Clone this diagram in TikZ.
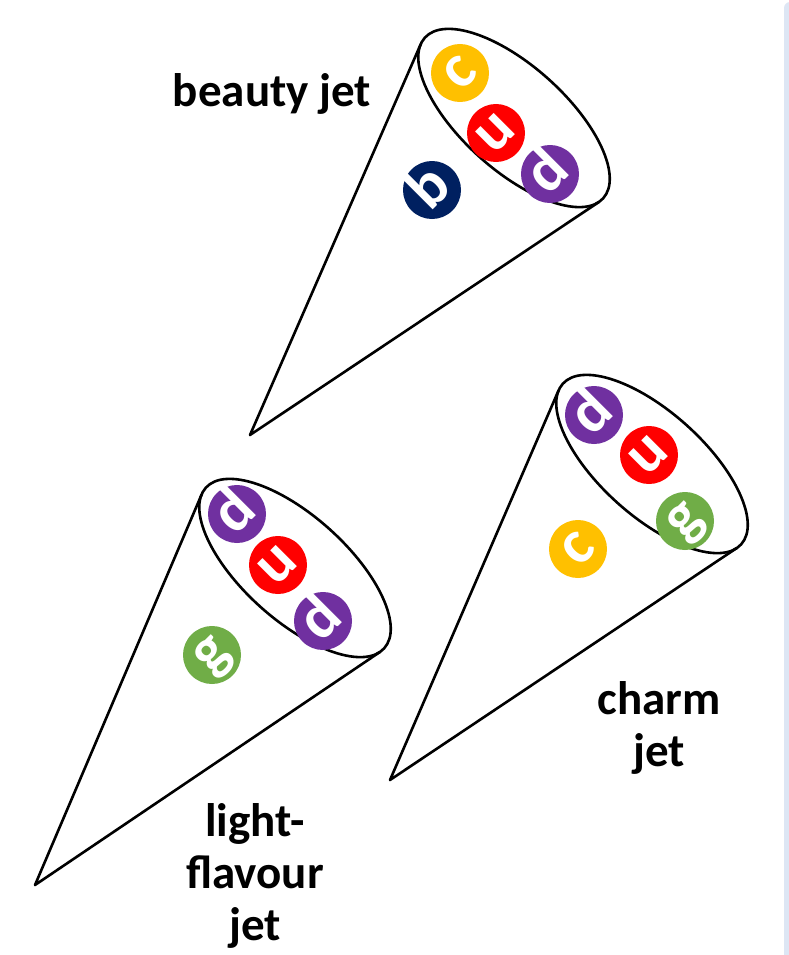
\documentclass[tikz,border=0pt]{standalone}
\usepackage{fontspec}
\setmainfont{Carlito}
\usepackage{tikz}

\definecolor{quarkc}{HTML}{FFC000}
\definecolor{quarku}{HTML}{FF0000}
\definecolor{quarkd}{HTML}{7030A0}
\definecolor{quarkb}{HTML}{002060}
\definecolor{quarkg}{HTML}{70AD47}
\definecolor{edgeblue}{HTML}{DDE6F4}

\begin{document}
\begin{tikzpicture}[
    x=1pt, y=1pt,
    cone/.style={draw=black, line width=2.6pt, line join=round},
    quark/.style={
        circle,
        fill=#1,
        minimum size=58pt,
        inner sep=0pt,
        text=white,
        font=\bfseries\fontsize{62}{62}\selectfont,
        text height=29pt,
        text depth=0pt,
        rotate=45
    },
    jetlabel/.style={
        font=\bfseries\fontsize{47}{52}\selectfont,
        align=center,
        inner sep=0pt
    }
]
    \useasboundingbox (0,0) rectangle (789,-955);
    \fill[white] (0,0) rectangle (789,-955);
    \fill[edgeblue, rounded corners=6pt] (784,-2) rectangle (800,-960);

    % beauty jet
    \coordinate (bapex) at (250,-435);
    \coordinate (bmouth) at (514,-118);
    \coordinate (bleft) at (420.8,-44.0);
    \coordinate (bright) at (598.9,-202.0);
    \draw[cone] (bleft) -- (bapex) -- (bright);
    \draw[cone] (bmouth) circle [x radius=120, y radius=52, rotate=-42];

    % charm jet
    \coordinate (capex) at (390,-780);
    \coordinate (cmouth) at (652,-464);
    \coordinate (cleft) at (558.7,-390.1);
    \coordinate (cright) at (736.8,-548.0);
    \draw[cone] (cleft) -- (capex) -- (cright);
    \draw[cone] (cmouth) circle [x radius=120, y radius=52, rotate=-42];

    % light-flavour jet
    \coordinate (lapex) at (35,-885);
    \coordinate (lmouth) at (295,-568);
    \coordinate (lleft) at (201.7,-494.3);
    \coordinate (lright) at (379.9,-652.0);
    \draw[cone] (lleft) -- (lapex) -- (lright);
    \draw[cone] (lmouth) circle [x radius=120, y radius=52, rotate=-42];

    % quarks
    \node[quark=quarkc] (bc) at (460,-73) {c};
    \node[quark=quarku] (bu) at (496,-133) {u};
    \node[quark=quarkd] (bd) at (550,-174) {d};
    \node[quark=quarkb] (bb) at (432,-190) {b};

    \node[quark=quarkd] (cd) at (594,-415) {d};
    \node[quark=quarku] (cu) at (649,-455) {u};
    \node[quark=quarkg] (cg) at (685,-521) {g};
    \node[quark=quarkc] (cc) at (578,-549) {c};

    \node[quark=quarkd] (ld1) at (237,-514) {d};
    \node[quark=quarku] (lu) at (278,-565) {u};
    \node[quark=quarkd] (ld2) at (323,-621) {d};
    \node[quark=quarkg] (lg) at (212,-655) {g};

    % labels
    \node[jetlabel, anchor=base] (blabel) at (272,-107) {beauty jet};
    \node[jetlabel, anchor=north] (clabel) at (659,-681) {charm\\jet};
    \node[jetlabel, anchor=north] (llabel) at (255,-803) {light-\\flavour\\jet};
\end{tikzpicture}
\end{document}
